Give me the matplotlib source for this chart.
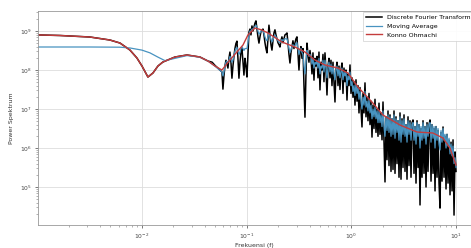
import numpy as np
import matplotlib
matplotlib.use("Agg")
import matplotlib.pyplot as plt

# ---- data (log10 of frequency, log10 of power) ----
ko_logf = [-3.0, -2.783, -2.497, -2.306, -2.210, -2.115, -2.048, -2.0, -1.943, -1.895,
           -1.847, -1.80, -1.685, -1.570, -1.446, -1.370, -1.303, -1.236, -1.160, -1.093,
           -1.035, -0.988, -0.921, -0.854, -0.797, -0.663, -0.539, -0.443, -0.348, -0.252,
           -0.128, -0.032, 0.063, 0.197, 0.302, 0.464, 0.627, 0.779, 0.875, 0.942, 1.0]
ko_logp = [8.90, 8.885, 8.846, 8.769, 8.692, 8.513, 8.308, 8.103, 7.82, 7.923,
           8.103, 8.205, 8.333, 8.385, 8.333, 8.231, 8.103, 8.0, 8.256, 8.462,
           8.641, 8.897, 9.077, 9.026, 8.949, 8.718, 8.59, 8.462, 8.256, 8.128,
           8.051, 7.923, 7.564, 7.179, 6.846, 6.59, 6.41, 6.385, 6.256, 6.0, 5.564]

ma_low_logf = [-3.0, -2.5, -2.21, -2.115, -2.0, -1.924, -1.847, -1.78, -1.685, -1.57,
               -1.446, -1.37, -1.303]
ma_low_logp = [8.59, 8.59, 8.585, 8.565, 8.51, 8.44, 8.33, 8.24, 8.30, 8.37,
               8.33, 8.23, 8.10]

dft_low_logf = [-3.0, -2.783, -2.497, -2.306, -2.210, -2.115, -2.048, -2.0, -1.943, -1.895,
                -1.847, -1.80, -1.685, -1.570, -1.446, -1.370, -1.330, -1.303]
dft_low_logp = [8.90, 8.885, 8.846, 8.769, 8.692, 8.513, 8.308, 8.103, 7.82, 7.923,
                8.103, 8.205, 8.333, 8.385, 8.333, 8.231, 8.20, 8.12]

# high-frequency section, sampled on an even log-frequency grid
hf_start, hf_stop = -1.236, 1.0
dft_high_logp = [
    7.95, 7.51, 7.85, 8.10, 8.25, 8.15, 8.05, 8.30, 8.46, 8.20,
    7.79, 8.10, 8.35, 8.55, 8.68, 8.74, 8.30, 7.79, 8.20, 8.45,
    8.56, 8.20, 7.87, 8.30, 8.10, 7.82, 8.40, 8.97, 9.05, 8.90,
    9.13, 9.00, 9.10, 9.20, 9.26, 9.05, 8.85, 8.69, 8.85, 8.98,
    9.02, 9.05, 8.90, 8.70, 8.55, 8.44, 8.80, 9.15, 8.90, 8.65,
    8.51, 8.75, 8.95, 9.03, 8.90, 8.80, 8.70, 8.65, 8.59, 8.75,
    8.85, 8.70, 8.80, 8.90, 8.92, 8.95, 8.70, 8.40, 8.18, 8.45,
    8.60, 8.75, 8.55, 8.70, 8.80, 8.85, 8.40, 8.00, 8.45, 8.60,
    8.30, 8.55, 7.60, 6.79, 7.90, 8.69, 8.40, 8.20, 8.50, 8.30,
    7.90, 8.44, 7.74, 8.30, 8.10, 8.35, 7.80, 8.46, 7.49, 8.20,
    8.00, 8.40, 7.70, 8.44, 8.00, 7.36, 8.10, 8.30, 7.80, 8.25,
    7.60, 8.20, 7.70, 7.18, 8.00, 8.20, 7.60, 8.10, 7.50, 8.00,
    8.18, 7.40, 8.05, 7.70, 8.00, 7.23, 7.90, 7.60, 8.13, 7.40,
    7.80, 7.30, 7.70, 7.10, 7.75, 7.20, 7.60, 6.90, 7.55, 7.00,
    6.54, 7.40, 6.90, 7.67, 6.80, 7.30, 6.70, 7.40, 6.60, 7.20,
    6.28, 7.10, 6.50, 7.25, 6.40, 7.00, 6.30, 7.15, 6.35, 6.90,
    6.21, 7.18, 6.20, 5.13, 6.80, 5.70, 6.95, 5.55, 6.85, 5.40,
    6.75, 5.45, 6.95, 5.35, 6.80, 5.60, 6.70, 5.25, 6.90, 5.20,
    6.75, 5.50, 6.85, 5.40, 6.60, 5.20, 6.80, 5.55, 6.70, 5.25,
    6.65, 6.72, 5.35, 6.55, 5.10, 6.70, 5.50, 6.60, 4.54, 6.50,
    5.25, 6.70, 5.35, 6.55, 5.00, 6.65, 5.40, 6.60, 6.72, 5.15,
    6.60, 5.35, 6.50, 4.90, 6.55, 5.25, 6.45, 5.10, 4.46, 6.40,
    5.15, 6.54, 5.25, 6.30, 4.95, 6.35, 5.10, 6.20, 4.80, 6.15,
    4.90, 6.21, 4.28, 5.90, 5.40]

ma_high_logp = [
    7.95, 7.85, 7.95, 8.10, 8.20, 8.22, 8.20, 8.25, 8.35, 8.30,
    8.20, 8.25, 8.38, 8.48, 8.55, 8.58, 8.50, 8.40, 8.45, 8.55,
    8.60, 8.55, 8.50, 8.55, 8.55, 8.55, 8.70, 8.90, 9.00, 9.00,
    9.05, 9.05, 9.08, 9.12, 9.15, 9.10, 9.00, 8.92, 8.95, 9.00,
    9.00, 9.00, 8.95, 8.85, 8.78, 8.75, 8.85, 8.95, 8.88, 8.78,
    8.72, 8.78, 8.85, 8.90, 8.85, 8.80, 8.75, 8.72, 8.70, 8.75,
    8.78, 8.75, 8.78, 8.80, 8.80, 8.80, 8.70, 8.55, 8.45, 8.52,
    8.60, 8.65, 8.60, 8.62, 8.68, 8.70, 8.55, 8.40, 8.50, 8.55,
    8.45, 8.40, 8.10, 7.90, 8.20, 8.50, 8.45, 8.35, 8.40, 8.35,
    8.15, 8.30, 8.05, 8.20, 8.15, 8.25, 8.05, 8.30, 7.90, 8.10,
    8.05, 8.25, 7.95, 8.25, 8.05, 7.80, 8.05, 8.20, 7.95, 8.15,
    7.90, 8.10, 7.90, 7.75, 8.00, 8.10, 7.85, 8.05, 7.80, 7.95,
    8.05, 7.75, 7.95, 7.85, 7.95, 7.60, 7.85, 7.75, 7.95, 7.60,
    7.70, 7.45, 7.60, 7.35, 7.65, 7.40, 7.55, 7.25, 7.45, 7.20,
    7.00, 7.30, 7.10, 7.45, 7.05, 7.20, 6.95, 7.25, 6.90, 7.10,
    6.75, 7.00, 6.80, 7.05, 6.75, 6.95, 6.65, 6.95, 6.65, 6.85,
    6.55, 6.95, 6.55, 6.30, 6.80, 6.45, 6.85, 6.40, 6.80, 6.30,
    6.75, 6.35, 6.85, 6.25, 6.75, 6.40, 6.70, 6.20, 6.80, 6.15,
    6.70, 6.35, 6.75, 6.30, 6.60, 6.15, 6.70, 6.35, 6.65, 6.20,
    6.60, 6.65, 6.20, 6.55, 6.10, 6.65, 6.30, 6.60, 6.00, 6.55,
    6.20, 6.65, 6.25, 6.55, 6.10, 6.60, 6.30, 6.60, 6.65, 6.15,
    6.60, 6.25, 6.55, 6.00, 6.55, 6.20, 6.50, 6.10, 5.95, 6.45,
    6.15, 6.50, 6.20, 6.35, 6.00, 6.35, 6.05, 6.25, 5.85, 6.10,
    5.80, 6.05, 5.60, 5.75, 5.50]

legend_labels = ["Discrete Fourier Transform", "Moving Average", "Konno Ohmachi"]
x_label = "Frekuensi (f)"
y_label = "Power Spektrum"

# ---- build series ----
hf_logf = np.linspace(hf_start, hf_stop, len(dft_high_logp))
dft_f = 10 ** np.concatenate([dft_low_logf, hf_logf])
dft_p = 10 ** np.concatenate([dft_low_logp, dft_high_logp])
ma_f = 10 ** np.concatenate([ma_low_logf, hf_logf])
ma_p = 10 ** np.concatenate([ma_low_logp, ma_high_logp])
ko_f = 10 ** np.array(ko_logf)
ko_p = 10 ** np.array(ko_logp)

# ---- plot ----
plt.rcParams['font.family'] = ['DejaVu Sans']
fig = plt.figure(figsize=(4.71, 2.48), dpi=100)
ax = fig.add_axes([38 / 471, 1 - 225 / 248, (471 - 38) / 471, (225 - 11) / 248])

ax.plot(dft_f, dft_p, color='black', lw=1.1, label=legend_labels[0])
ax.plot(ma_f, ma_p, color='#4893c0', lw=0.9, label=legend_labels[1])
ax.plot(ko_f, ko_p, color='#c43c3c', lw=1.0, label=legend_labels[2])

ax.set_xscale('log')
ax.set_yscale('log')
ax.set_xlim(10 ** -2.993, 10 ** 1.143)
ax.set_ylim(10 ** 4.026, 10 ** 9.513)

ax.grid(True, which='major', color='#dddddd', lw=0.6)
ax.set_axisbelow(True)
for s in ax.spines.values():
    s.set_color('#999999')
    s.set_linewidth(0.6)
ax.tick_params(which='major', length=2.5, width=0.5, labelsize=4.3,
               colors='#444444', pad=2)
ax.tick_params(which='minor', length=1.5, width=0.4, colors='#777777')

ax.set_xlabel(x_label, fontsize=4.5, color='#333333', labelpad=2)
ax.set_ylabel(y_label, fontsize=4.5, color='#333333', labelpad=4)

leg = ax.legend(loc='upper left', bbox_to_anchor=(363 / 471, 1 - 11.5 / 248),
                bbox_transform=fig.transFigure, fontsize=4.5, frameon=True,
                fancybox=False, edgecolor='#cccccc', framealpha=0.9,
                handlelength=2.6, handletextpad=0.8, borderpad=0.5,
                labelspacing=0.55, borderaxespad=0)
leg.get_frame().set_linewidth(0.5)

fig.savefig('out.png', dpi=100)
